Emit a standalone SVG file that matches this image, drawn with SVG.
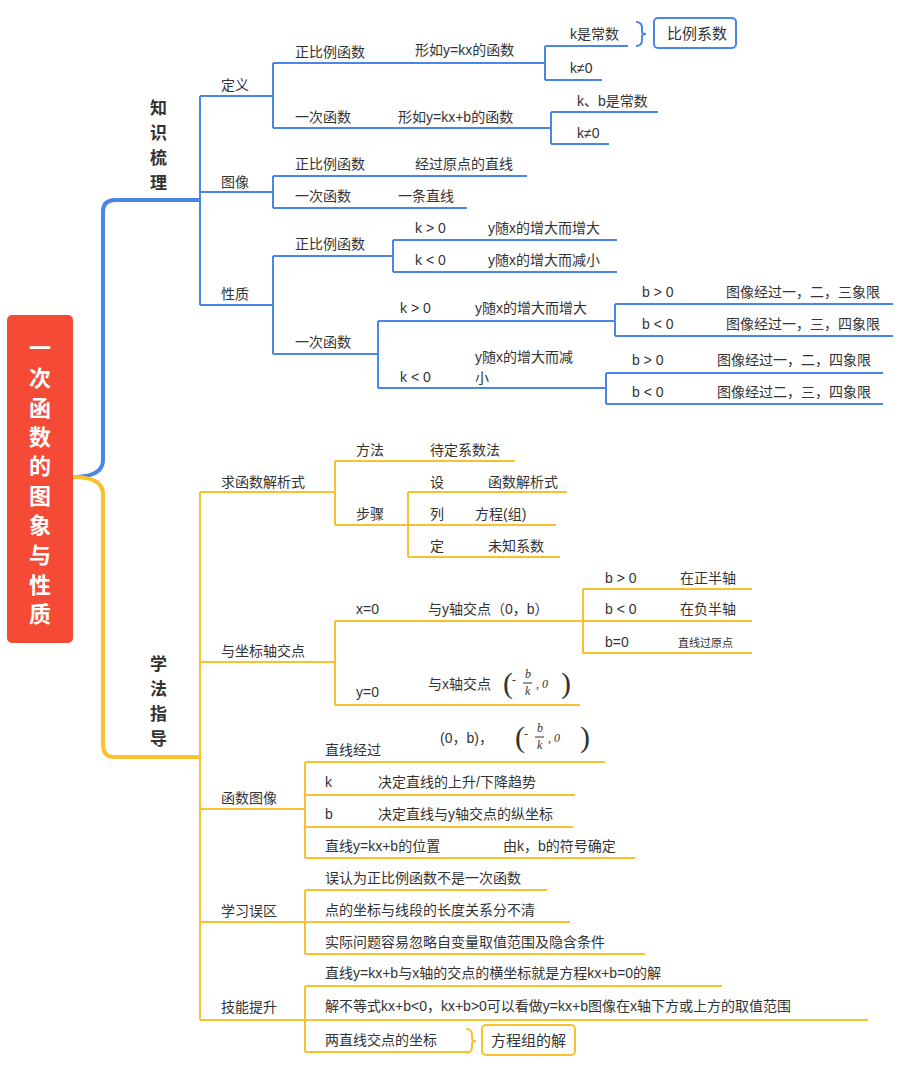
<svg xmlns="http://www.w3.org/2000/svg" width="915" height="1065" viewBox="0 0 915 1065">
<style>
text{font-family:"Liberation Sans","Noto Sans CJK SC",sans-serif;font-size:14px;fill:#333}
.b{fill:none;stroke:#4a86e8;stroke-width:2}
.o{fill:none;stroke:#fbc02d;stroke-width:2}
.h{font-size:17px;font-weight:bold;fill:#333}
.t{font-size:22px;font-weight:bold;fill:#fff}
.m{font-family:"Liberation Serif",serif;font-style:italic;font-size:12px}
.p{font-family:"Liberation Serif",serif;font-size:30px;fill:#333}
.s{font-size:11px}
</style>
<rect width="915" height="1065" fill="#fff"/>
<g id="connectors">
<path d="M73 477 Q103 477 103 460 L103 212 Q103 200 115 200 L200 200" fill="none" stroke="#4a86e8" stroke-width="4"/>
<path d="M73 477 Q103 477 103 494 L103 745 Q103 757 115 757 L200 757" fill="none" stroke="#fbc02d" stroke-width="4"/>
<path class="b" d="M200 96V305 M200 96H273 M273 63V128 M273 63H545 M545 46V80 M545 46H628 M545 80H602 M273 128H551 M551 112V144 M551 112H658 M551 144H609
M200 192H273 M273 176V208 M273 176H527 M273 208H467
M200 305H273 M273 256V354 M273 256H393 M393 240V272 M393 240H617 M393 272H617 M273 354H378 M378 321V388 M378 321H615 M615 304V336 M615 304H893 M615 336H893 M378 388H606 M606 373V404 M606 373H883 M606 404H883"/>
<path class="b" d="M636 22Q642 22 642 28V32Q642 34 646 34Q642 34 642 36V40Q642 46 636 46"/>
<path class="o" d="M200 492V1020 M200 492H335 M335 461V525 M335 461H515 M335 525H408 M408 492V557 M408 492H567 M408 525H556 M408 557H560
M200 662H335 M335 621V705 M335 621H583 M583 589V653 M583 589H752 M583 621H752 M583 653H752 M335 705H580
M200 809H305 M305 762V858 M305 762H605 M305 795H575 M305 827H573 M305 858H635
M200 922H305 M305 890V954 M305 890H547 M305 922H570 M305 954H645
M200 1020H305 M305 986V1052 M305 986H722 M305 1020H868 M305 1052H470"/>
<path class="o" d="M466 1029Q472 1029 472 1035V1038Q472 1041 476 1041Q472 1041 472 1044V1047Q472 1053 466 1053"/>
</g>
<g id="root"><rect x="7" y="315" width="66" height="328" rx="5" fill="#f44a36"/>
<text class="t" x="40" y="356" text-anchor="middle">一</text><text class="t" x="40" y="386" text-anchor="middle">次</text><text class="t" x="40" y="416" text-anchor="middle">函</text><text class="t" x="40" y="445" text-anchor="middle">数</text><text class="t" x="40" y="474" text-anchor="middle">的</text><text class="t" x="40" y="504" text-anchor="middle">图</text><text class="t" x="40" y="533" text-anchor="middle">象</text><text class="t" x="40" y="563" text-anchor="middle">与</text><text class="t" x="40" y="593" text-anchor="middle">性</text><text class="t" x="40" y="622" text-anchor="middle">质</text></g>
<g id="zhishi"><text class="h" x="150" y="114">知</text><text class="h" x="150" y="139">识</text><text class="h" x="150" y="164">梳</text><text class="h" x="150" y="189">理</text></g>
<g id="xuefa"><text class="h" x="150" y="670">学</text><text class="h" x="150" y="695">法</text><text class="h" x="150" y="720">指</text><text class="h" x="150" y="745">导</text></g>
<g id="blue-nodes">
<text x="221" y="90">定义</text>
<text x="295" y="57">正比例函数</text><text x="415" y="55">形如y=kx的函数</text>
<text x="570" y="39">k是常数</text><text x="570" y="73">k≠0</text>
<rect x="654" y="18" width="82" height="30" rx="4" fill="#fff" stroke="#4a86e8" stroke-width="2"/><text x="667" y="39" style="font-size:15px">比例系数</text>
<text x="295" y="122">一次函数</text><text x="398" y="122">形如y=kx+b的函数</text>
<text x="577" y="106">k、b是常数</text><text x="577" y="138">k≠0</text>
<text x="221" y="187">图像</text>
<text x="295" y="169">正比例函数</text><text x="415" y="169">经过原点的直线</text>
<text x="295" y="201">一次函数</text><text x="398" y="201">一条直线</text>
<text x="221" y="299">性质</text>
<text x="295" y="249">正比例函数</text>
<text x="415" y="233">k &gt; 0</text><text x="488" y="233">y随x的增大而增大</text>
<text x="415" y="265">k &lt; 0</text><text x="488" y="265">y随x的增大而减小</text>
<text x="295" y="347">一次函数</text>
<text x="400" y="313">k &gt; 0</text><text x="475" y="313">y随x的增大而增大</text>
<text x="642" y="297">b &gt; 0</text><text x="726" y="297">图像经过一，二，三象限</text>
<text x="642" y="329">b &lt; 0</text><text x="726" y="329">图像经过一，三，四象限</text>
<text x="400" y="382">k &lt; 0</text><text x="475" y="362">y随x的增大而减</text><text x="475" y="383">小</text>
<text x="632" y="365">b &gt; 0</text><text x="717" y="365">图像经过一，二，四象限</text>
<text x="632" y="397">b &lt; 0</text><text x="717" y="397">图像经过二，三，四象限</text>
</g>
<g id="orange-nodes">
<text x="221" y="487">求函数解析式</text>
<text x="356" y="455">方法</text><text x="430" y="455">待定系数法</text>
<text x="356" y="519">步骤</text>
<text x="430" y="487">设</text><text x="488" y="487">函数解析式</text>
<text x="430" y="519">列</text><text x="475" y="519">方程(组)</text>
<text x="430" y="551">定</text><text x="488" y="551">未知系数</text>
<text x="221" y="656">与坐标轴交点</text>
<text x="356" y="614">x=0</text><text x="428" y="614">与y轴交点（0，b）</text>
<text x="605" y="583">b &gt; 0</text><text x="680" y="583">在正半轴</text>
<text x="605" y="614">b &lt; 0</text><text x="680" y="614">在负半轴</text>
<text x="605" y="647">b=0</text><text class="s" x="678" y="647">直线过原点</text>
<text x="356" y="697">y=0</text><text x="428" y="689">与x轴交点</text>
<text class="p" x="503" y="693">(</text><text class="m" x="512" y="684">-</text><text class="m" x="525" y="678">b</text><path d="M523 683H532" stroke="#333"/><text class="m" x="525" y="695">k</text><text class="m" x="536" y="688">,  0</text><text class="p" x="561" y="693">)</text>
<text x="221" y="803">函数图像</text>
<text x="325" y="755">直线经过</text><text x="440" y="743">(0，b)，</text>
<text class="p" x="515" y="747">(</text><text class="m" x="524" y="738">-</text><text class="m" x="537" y="732">b</text><path d="M535 737H544" stroke="#333"/><text class="m" x="537" y="749">k</text><text class="m" x="548" y="742">,  0</text><text class="p" x="580" y="747">)</text>
<text x="325" y="787">k</text><text x="378" y="787">决定直线的上升/下降趋势</text>
<text x="325" y="819">b</text><text x="378" y="819">决定直线与y轴交点的纵坐标</text>
<text x="325" y="851">直线y=kx+b的位置</text><text x="503" y="851">由k，b的符号确定</text>
<text x="221" y="916">学习误区</text>
<text x="325" y="883">误认为正比例函数不是一次函数</text>
<text x="325" y="915">点的坐标与线段的长度关系分不清</text>
<text x="325" y="947">实际问题容易忽略自变量取值范围及隐含条件</text>
<text x="221" y="1012">技能提升</text>
<text x="325" y="978">直线y=kx+b与x轴的交点的横坐标就是方程kx+b=0的解</text>
<text x="325" y="1011">解不等式kx+b&lt;0，kx+b&gt;0可以看做y=kx+b图像在x轴下方或上方的取值范围</text>
<text x="325" y="1045">两直线交点的坐标</text>
<rect x="482" y="1025" width="93" height="30" rx="4" fill="#fff" stroke="#fbc02d" stroke-width="2"/><text x="491" y="1046" style="font-size:15px">方程组的解</text>
</g>
</svg>
